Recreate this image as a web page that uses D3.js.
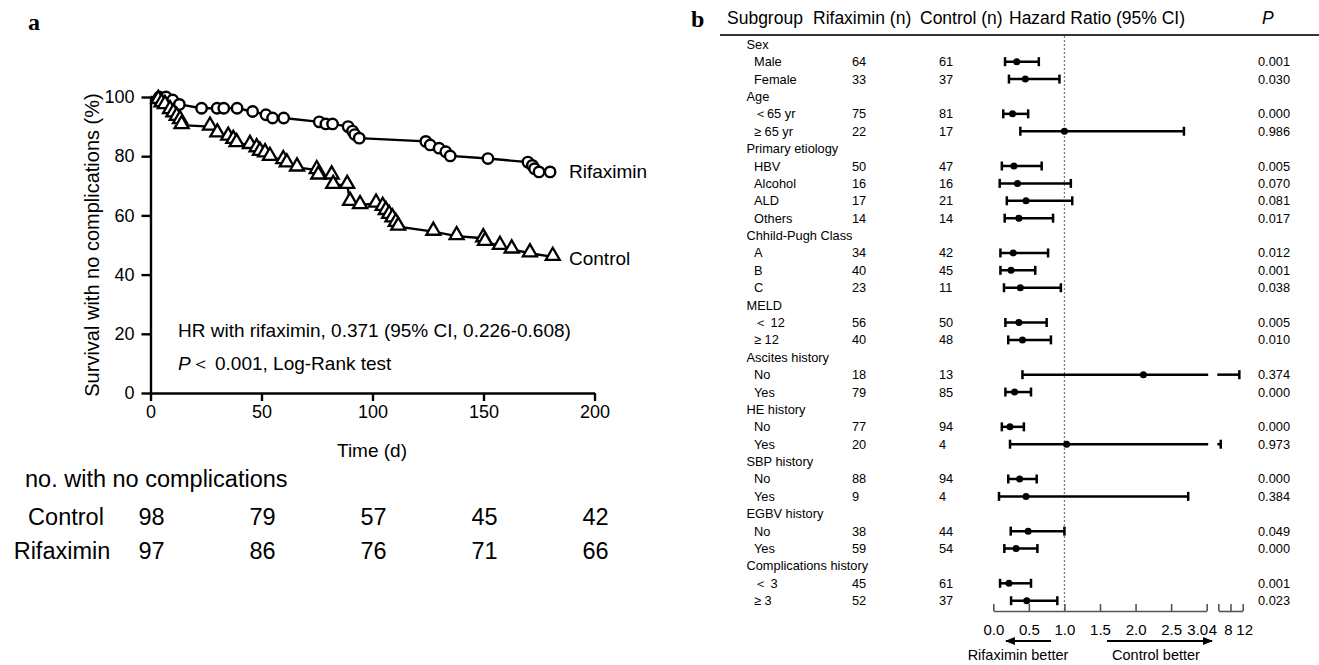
<!DOCTYPE html>
<html><head><meta charset="utf-8">
<script src="https://cdn.jsdelivr.net/npm/d3@7"></script>
<style>body{margin:0;background:#fff} svg{display:block} text{font-family:"Liberation Sans",Arial,sans-serif;fill:#000}</style>
</head><body><svg id="c" width="1319" height="665"></svg>
<script>
// ---------- Panel a: Kaplan-Meier data ----------
const rifTime = [0, 4, 7, 10, 13, 23, 30, 33, 39, 46, 52, 55, 60, 76, 79, 82, 89, 91, 92, 94, 124, 126, 130, 133, 135, 152, 170, 172, 173, 175, 180];
const rifSurv = [100, 100, 100, 99, 97.5, 96.2, 96.2, 96.2, 96.2, 95.1, 94, 92.9, 92.9, 91.6, 90.9, 90.9, 90, 88.5, 87.3, 86.1, 85, 83.8, 82.7, 81.5, 80.1, 79.2, 78, 76.9, 75.8, 74.7, 74.7];
const ctrlTime = [0, 3.5, 5, 6.5, 8.8, 10.3, 11.8, 13.3, 14, 26.8, 30.1, 35, 37.3, 38.8, 44.8, 47.8, 49.3, 51.6, 53.8, 59.8, 61.4, 66, 74.9, 75.6, 81.6, 82.3, 88.6, 89.9, 94.4, 101.6, 104.6, 106, 107.5, 109, 110.5, 111.6, 127.4, 137.9, 149.9, 150.7, 157.4, 162.7, 170.9, 181.2];
const ctrlSurv = [100, 99, 97.9, 97.3, 95.6, 94.5, 93.3, 92.2, 90.5, 90, 87.7, 86.6, 85.5, 84.4, 83.8, 82.7, 81.5, 81, 79.8, 78.7, 77.6, 76.2, 75.3, 73.5, 73.5, 70.3, 70.3, 64.6, 63.5, 64, 62.9, 61.5, 60.2, 59, 57.5, 56.2, 54.5, 53, 52.3, 51.1, 49.7, 48.5, 47.2, 46];
const xTicksA = [0, 50, 100, 150, 200];
const yTicksA = [0, 20, 40, 60, 80, 100];
const riskTimes = [0, 50, 100, 150, 200];
const riskControl = [98, 79, 57, 45, 42];
const riskRifaximin = [97, 86, 76, 71, 66];

// ---------- Panel b: forest plot data ----------
const subLabels = ["Sex","Male","Female","Age","＜65 yr","≥ 65 yr","Primary etiology","HBV","Alcohol","ALD","Others","Chhild-Pugh Class","A","B","C","MELD","＜ 12","≥ 12","Ascites history","No","Yes","HE history","No","Yes","SBP history","No","Yes","EGBV history","No","Yes","Complications history","＜ 3","≥ 3"];
const rifN  = [null,64,33,null,75,22,null,50,16,17,14,null,34,40,23,null,56,40,null,18,79,null,77,20,null,88,9,null,38,59,null,45,52];
const ctrlN = [null,61,37,null,81,17,null,47,16,21,14,null,42,45,11,null,50,48,null,13,85,null,94,4,null,94,4,null,44,54,null,61,37];
const hr    = [null,0.33,0.45,null,0.27,1.0,null,0.29,0.34,0.46,0.36,null,0.28,0.25,0.38,null,0.36,0.41,null,2.11,0.30,null,0.235,1.03,null,0.37,0.46,null,0.49,0.32,null,0.22,0.47];
const ciLow = [null,0.165,0.22,null,0.14,0.38,null,0.12,0.09,0.19,0.16,null,0.10,0.10,0.15,null,0.17,0.21,null,0.41,0.17,null,0.12,0.235,null,0.21,0.08,null,0.245,0.155,null,0.095,0.25];
const ciHigh= [null,0.64,0.93,null,0.49,2.68,null,0.68,1.09,1.11,0.84,null,0.77,0.59,0.95,null,0.75,0.81,null,10.9,0.53,null,0.43,4.8,null,0.61,2.74,null,1.0,0.62,null,0.53,0.90];
const pVals = [null,"0.001","0.030",null,"0.000","0.986",null,"0.005","0.070","0.081","0.017",null,"0.012","0.001","0.038",null,"0.005","0.010",null,"0.374","0.000",null,"0.000","0.973",null,"0.000","0.384",null,"0.049","0.000",null,"0.001","0.023"];
const fTicks1 = [0, 0.5, 1.0, 1.5, 2.0, 2.5, 3.0];
const fTicks2 = [4, 8, 12];

const svg = d3.select("#c");

// ===== Panel a =====
const x = d3.scaleLinear([0, 200], [150.5, 594.5]);
const y = d3.scaleLinear([0, 100], [393, 97]);

svg.append("text").attr("x", 28).attr("y", 30).text("a")
  .style("font-family", "'Liberation Serif',serif").style("font-weight", "bold").style("font-size", "24px");

const gx = svg.append("g").attr("transform", `translate(0,${y(0)})`)
  .call(d3.axisBottom(x).tickValues(xTicksA).tickSize(8).tickSizeOuter(0).tickPadding(4));
const gy = svg.append("g").attr("transform", `translate(${x(0)},0)`)
  .call(d3.axisLeft(y).tickValues(yTicksA).tickSize(9).tickSizeOuter(0).tickPadding(7));
[gx, gy].forEach(g => {
  g.selectAll("path,line").attr("stroke", "#000").attr("stroke-width", 2.4);
  g.selectAll("text").style("font-size", "18px").style("font-family", "'Liberation Sans',Arial,sans-serif");
});

svg.append("text").attr("x", 372).attr("y", 457).attr("text-anchor", "middle").style("font-size", "19px").text("Time (d)");
svg.append("text").attr("transform", "translate(99,245) rotate(-90)").attr("text-anchor", "middle")
  .style("font-size", "20px").text("Survival with no complications (%)");

const line = d3.line().x(d => x(d[0])).y(d => y(d[1]));
const rifPts = rifTime.map((t, i) => [t, rifSurv[i]]);
const ctrlPts = ctrlTime.map((t, i) => [t, ctrlSurv[i]]);
svg.append("path").attr("d", line(rifPts)).attr("fill", "none").attr("stroke", "#000").attr("stroke-width", 2.4);
svg.append("path").attr("d", line(ctrlPts)).attr("fill", "none").attr("stroke", "#000").attr("stroke-width", 2.4);

svg.append("g").selectAll("circle").data(rifPts.slice(1)).join("circle")
  .attr("cx", d => x(d[0])).attr("cy", d => y(d[1])).attr("r", 5.2)
  .attr("fill", "#fff").attr("stroke", "#000").attr("stroke-width", 2.4);
const tri = d3.symbol().type(d3.symbolTriangle).size(85);
svg.append("g").selectAll("path").data(ctrlPts.slice(1)).join("path")
  .attr("d", tri).attr("transform", d => `translate(${x(d[0])},${y(d[1]) - 1})`)
  .attr("fill", "#fff").attr("stroke", "#000").attr("stroke-width", 2.3);

svg.append("text").attr("x", 569).attr("y", 178).style("font-size", "19px").text("Rifaximin");
svg.append("text").attr("x", 569).attr("y", 265).style("font-size", "19px").text("Control");

svg.append("text").attr("x", 178).attr("y", 337).style("font-size", "19px").text("HR with rifaximin, 0.371 (95% CI, 0.226-0.608)");
const pt = svg.append("text").attr("x", 178).attr("y", 370).style("font-size", "19px");
pt.append("tspan").style("font-style", "italic").text("P");
pt.append("tspan").text("＜ 0.001, Log-Rank test");

// risk table
const rFs = "23.5px";
svg.append("text").attr("x", 25).attr("y", 487).style("font-size", rFs).text("no. with no complications");
svg.append("text").attr("x", 66).attr("y", 525).attr("text-anchor", "middle").style("font-size", rFs).text("Control");
svg.append("text").attr("x", 62).attr("y", 559).attr("text-anchor", "middle").style("font-size", rFs).text("Rifaximin");
svg.append("g").selectAll("text").data(riskControl).join("text")
  .attr("x", (d, i) => x(riskTimes[i]) + 1).attr("y", 525).attr("text-anchor", "middle").style("font-size", rFs).text(d => d);
svg.append("g").selectAll("text").data(riskRifaximin).join("text")
  .attr("x", (d, i) => x(riskTimes[i]) + 1).attr("y", 559).attr("text-anchor", "middle").style("font-size", rFs).text(d => d);

// ===== Panel b =====
svg.append("text").attr("x", 691).attr("y", 27).text("b")
  .style("font-family", "'Liberation Serif',serif").style("font-weight", "bold").style("font-size", "24px");

const hdrFs = "17.5px";
svg.append("text").attr("x", 727).attr("y", 24).style("font-size", hdrFs).text("Subgroup");
svg.append("text").attr("x", 813).attr("y", 24).style("font-size", hdrFs).text("Rifaximin (n)");
svg.append("text").attr("x", 920).attr("y", 24).style("font-size", hdrFs).text("Control (n)");
svg.append("text").attr("x", 1009).attr("y", 24).style("font-size", hdrFs).text("Hazard Ratio (95% CI)");
svg.append("text").attr("x", 1262).attr("y", 24).style("font-size", hdrFs).style("font-style", "italic").text("P");
svg.append("line").attr("x1", 720).attr("x2", 1319).attr("y1", 35).attr("y2", 35).attr("stroke", "#333").attr("stroke-width", 2);

const rowY = d3.scaleLinear([0, 32], [44.3, 600.7]);
const fx1 = d3.scaleLinear([0, 3], [993.3, 1206.7]);
const fx2 = d3.scaleLinear([4, 12], [1218.3, 1242.7]);
const fx = v => v <= 3 ? fx1(v) : fx2(Math.max(v, 4));

// reference line
svg.append("line").attr("x1", fx1(1)).attr("x2", fx1(1)).attr("y1", 36).attr("y2", 611)
  .attr("stroke", "#777").attr("stroke-width", 1.2).attr("stroke-dasharray", "2,2");

const rowFs = "12.8px";
const rows = subLabels.map((s, i) => ({s, i, hdr: rifN[i] === null}));
const gRows = svg.append("g");
gRows.selectAll("text.lab").data(rows).join("text").attr("class", "lab")
  .attr("x", d => d.hdr ? 746.5 : 754).attr("y", d => rowY(d.i) + 4.5).style("font-size", rowFs).text(d => d.s);
gRows.selectAll("text.rn").data(rows.filter(d => !d.hdr)).join("text").attr("class", "rn")
  .attr("x", 852).attr("y", d => rowY(d.i) + 4.5).style("font-size", rowFs).text(d => rifN[d.i]);
gRows.selectAll("text.cn").data(rows.filter(d => !d.hdr)).join("text").attr("class", "cn")
  .attr("x", 939).attr("y", d => rowY(d.i) + 4.5).style("font-size", rowFs).text(d => ctrlN[d.i]);
gRows.selectAll("text.pv").data(rows.filter(d => !d.hdr)).join("text").attr("class", "pv")
  .attr("x", 1258).attr("y", d => rowY(d.i) + 4.5).style("font-size", rowFs).text(d => pVals[d.i]);

// CI bars
const gCI = svg.append("g").attr("stroke", "#000").attr("stroke-width", 2.5);
rows.filter(d => !d.hdr).forEach(d => {
  const yy = rowY(d.i), lo = ciLow[d.i], hi = ciHigh[d.i];
  if (hi <= 3) {
    gCI.append("line").attr("x1", fx(lo)).attr("x2", fx(hi)).attr("y1", yy).attr("y2", yy);
  } else {
    gCI.append("line").attr("x1", fx(lo)).attr("x2", fx1(3) + 1.5).attr("y1", yy).attr("y2", yy);
    gCI.append("line").attr("x1", fx2(4) - 1).attr("x2", fx(hi)).attr("y1", yy).attr("y2", yy);
  }
  [lo, hi].forEach(v => gCI.append("line").attr("x1", fx(v)).attr("x2", fx(v)).attr("y1", yy - 4.5).attr("y2", yy + 4.5));
  svg.append("circle").attr("cx", fx(hr[d.i])).attr("cy", yy).attr("r", 3.5).attr("fill", "#000");
});

// forest axis
const axY = 611;
const ga1 = svg.append("g").attr("transform", `translate(0,${axY})`)
  .call(d3.axisBottom(fx1).tickValues(fTicks1).tickSize(-7).tickSizeOuter(0).tickPadding(13).tickFormat(d3.format(".1f")));
const ga2 = svg.append("g").attr("transform", `translate(0,${axY})`)
  .call(d3.axisBottom(fx2).tickValues(fTicks2).tickSize(-7).tickSizeOuter(0).tickPadding(13).tickFormat(d3.format("d")));
[ga1, ga2].forEach(g => {
  g.selectAll("path,line").attr("stroke", "#555").attr("stroke-width", 1.6);
  g.selectAll("text").style("font-family", "'Liberation Sans',Arial,sans-serif").style("font-size", "15px").attr("fill", "#000");
});
ga1.selectAll(".tick text").filter(d => d === 3).attr("text-anchor", "end").attr("dx", "1");
ga2.selectAll(".tick text").filter(d => d === 4).attr("text-anchor", "start").attr("dx", "-10");
ga2.selectAll(".tick text").filter(d => d === 8).attr("dx", "-2.5");
ga2.selectAll(".tick text").filter(d => d === 12).attr("dx", "1.5");

// arrows
const defs = svg.append("defs");
defs.append("marker").attr("id", "ah").attr("viewBox", "0 0 10 10").attr("refX", 9).attr("refY", 5)
  .attr("markerWidth", 5.5).attr("markerHeight", 5.5).attr("orient", "auto-start-reverse")
  .append("path").attr("d", "M0,1 L10,5 L0,9 Z").attr("fill", "#000");
svg.append("line").attr("x1", 1051).attr("x2", 1006).attr("y1", 641).attr("y2", 641)
  .attr("stroke", "#000").attr("stroke-width", 1.8).attr("marker-end", "url(#ah)");
svg.append("line").attr("x1", 1107).attr("x2", 1212).attr("y1", 641).attr("y2", 641)
  .attr("stroke", "#000").attr("stroke-width", 1.8).attr("marker-end", "url(#ah)");
svg.append("text").attr("x", 1018).attr("y", 660).attr("text-anchor", "middle").style("font-size", "14.5px").text("Rifaximin better");
svg.append("text").attr("x", 1156).attr("y", 660).attr("text-anchor", "middle").style("font-size", "14.5px").text("Control better");
</script></body></html>
